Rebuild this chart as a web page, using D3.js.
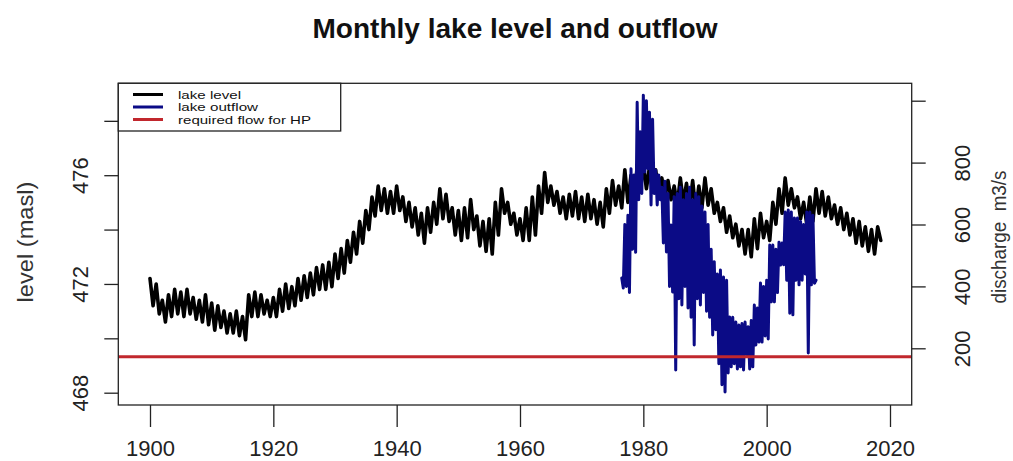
<!DOCTYPE html>
<html>
<head>
<meta charset="utf-8">
<script src="https://cdn.jsdelivr.net/npm/d3@7"></script>
<style>
  body { margin: 0; background: #fff; }
  svg { display: block; font-family: "Liberation Sans", Arial, sans-serif; }
</style>
</head>
<body>
<svg id="chart" width="1013" height="461"></svg>
<script>
// lake level: one high and one low reading per year, 1900-2018 (masl)
const levelYears = d3.range(1900, 2019);
const levelHigh = [
  472.2, 472.0, 471.4, 471.6, 471.8, 471.7, 471.8, 471.5, 471.4, 471.6,
  471.3, 471.2, 471.0, 470.9, 471.0, 470.8, 471.6, 471.7, 471.6, 471.4,
  471.5, 471.8, 472.0, 471.9, 472.2, 472.3, 472.4, 472.6, 472.7, 472.8,
  473.1, 473.3, 473.6, 473.9, 474.3, 474.7, 475.2, 475.6, 475.5, 475.4,
  475.6, 475.2, 475.0, 474.8, 474.6, 474.8, 475.0, 475.5, 475.3, 474.8,
  474.7, 474.8, 475.1, 474.5, 474.3, 474.4, 475.0, 475.5, 475.0, 474.6,
  474.4, 474.8, 475.2, 475.6, 476.1, 475.6, 475.4, 475.2, 475.3, 475.4,
  475.2, 475.3, 475.1, 475.0, 475.5, 475.8, 475.6, 476.2, 476.0, 476.3,
  476.4, 476.3, 476.2, 475.9, 475.8, 475.6, 475.9, 475.7, 475.8, 475.6,
  475.9, 475.5, 475.0, 474.8, 474.5, 474.2, 474.0, 474.0, 474.4, 474.6,
  474.3, 475.0, 475.5, 475.9, 475.5, 475.2, 475.0, 475.2, 475.5, 475.4,
  475.2, 474.9, 474.8, 474.6, 474.4, 474.3, 474.1, 474.0, 474.1
];
const levelLow = [
  471.2, 470.9, 470.6, 470.8, 470.9, 470.8, 470.9, 470.7, 470.6, 470.5,
  470.3, 470.4, 470.2, 470.2, 470.1, 469.95, 470.8, 470.8, 470.9, 470.8,
  470.8, 471.0, 471.1, 471.2, 471.4, 471.5, 471.6, 471.8, 471.8, 471.9,
  472.2, 472.4, 472.8, 473.1, 473.5, 474.0, 474.5, 474.7, 474.6, 474.6,
  474.7, 474.3, 474.1, 473.8, 473.5, 473.9, 474.2, 474.4, 474.3, 473.8,
  473.6, 473.7, 474.0, 473.4, 473.2, 473.1, 473.8, 474.6, 474.2, 473.8,
  473.6, 473.6, 473.8, 474.6, 475.0, 474.9, 474.6, 474.4, 474.5, 474.4,
  474.3, 474.4, 474.2, 474.1, 474.6, 474.9, 474.8, 475.0, 475.1, 475.4,
  475.5, 475.4, 475.3, 475.2, 475.1, 474.9, 475.0, 474.8, 474.7, 474.8,
  474.9, 474.6, 474.3, 473.9, 473.7, 473.4, 473.1, 473.0, 473.3, 473.7,
  473.6, 474.2, 474.6, 474.9, 474.8, 474.4, 474.2, 474.3, 474.6, 474.5,
  474.4, 474.2, 474.0, 473.8, 473.5, 473.4, 473.2, 473.1, 473.6
];

// lake outflow: quarterly readings from mid 1976 to early 2008 (m3/s)
const flowStart = 1976.5;
const flowStep = 0.25;
const flowValues = [
  427, 395,
  600, 400, 630, 380,   // 1977
  780, 520, 760, 510,
  995, 680, 900, 700,
  1018, 770, 1000, 780, // 1980
  963, 663, 940, 700,
  776, 663, 760, 680,
  720, 540, 740, 511,
  700, 400, 598, 382,
  690, 130, 700, 360,   // 1985
  720, 340, 680, 400,
  700, 330, 720, 300,
  680, 211, 700, 360,
  690, 340, 660, 380,
  640, 320, 600, 300,   // 1990
  520, 243, 480, 260,
  440, 150, 453, 82,
  430, 59, 420, 120,
  301, 140, 300, 150,
  285, 133, 275, 140,   // 1995
  280, 130, 285, 180,
  270, 133, 290, 140,
  340, 211, 330, 220,
  411, 220, 400, 240,
  420, 230, 534, 350,   // 2000
  534, 350, 520, 380,
  543, 469, 540, 470,
  640, 420, 647, 313,
  640, 308, 621, 420,
  621, 405, 610, 420,   // 2005
  600, 440, 640, 185,
  640, 405, 630, 410,
  420
];
const requiredFlow = 173;

const yearTicks = [1900, 1920, 1940, 1960, 1980, 2000, 2020];
const levelTicks = [468, 470, 472, 474, 476, 478];
const levelLabels = [468, 472, 476];
const flowTicks = [200, 400, 600, 800, 1000];
const flowLabels = [200, 400, 600, 800];

const legendNames = ["lake level", "lake outflow", "required flow for HP"];
const legendColors = ["#000000", "#0b0b86", "#c1272d"];

const svg = d3.select("#chart");
const box = { left: 118.3, right: 911.7, top: 83.3, bottom: 405 };

const x = d3.scaleLinear().domain([1900, 2020]).range([150, 890]);
const yLevel = d3.scaleLinear().domain([468, 476]).range([392.7, 175.2]);
const yFlow = d3.scaleLinear().domain([200, 1000]).range([348.3, 100.7]);

svg.append("defs").append("clipPath").attr("id", "plotclip")
  .append("rect")
  .attr("x", box.left).attr("y", box.top)
  .attr("width", box.right - box.left).attr("height", box.bottom - box.top);

const plot = svg.append("g").attr("clip-path", "url(#plotclip)");

const levelPoints = levelYears.flatMap((yr, i) => [[yr, levelHigh[i]], [yr + 0.5, levelLow[i]]]);
const flowPoints = flowValues.map((v, i) => [flowStart + i * flowStep, v]);

plot.append("path")
  .attr("d", d3.line().x(d => x(d[0])).y(d => yLevel(d[1]))(levelPoints))
  .attr("fill", "none").attr("stroke", legendColors[0])
  .attr("stroke-width", 3.6).attr("stroke-linejoin", "round").attr("stroke-linecap", "round");

plot.append("path")
  .attr("d", d3.line().x(d => x(d[0])).y(d => yFlow(d[1]))(flowPoints))
  .attr("fill", "none").attr("stroke", legendColors[1])
  .attr("stroke-width", 3).attr("stroke-linejoin", "round").attr("stroke-linecap", "round");

plot.append("line")
  .attr("x1", box.left).attr("x2", box.right)
  .attr("y1", yFlow(requiredFlow)).attr("y2", yFlow(requiredFlow))
  .attr("stroke", legendColors[2]).attr("stroke-width", 3);

// axes
const xAxis = svg.append("g")
  .attr("transform", `translate(0,${box.bottom})`)
  .call(d3.axisBottom(x).tickValues(yearTicks).tickSize(22).tickFormat(d3.format("d")));
xAxis.selectAll("text").attr("y", 51).attr("dy", null);

const leftAxis = svg.append("g")
  .attr("transform", `translate(${box.left},0)`)
  .call(d3.axisLeft(yLevel).tickValues(levelTicks).tickSize(14)
    .tickFormat(d => levelLabels.includes(d) ? d : ""));
leftAxis.selectAll("text")
  .attr("x", null).attr("dy", null).attr("text-anchor", "middle")
  .attr("transform", "translate(-30,0) rotate(-90)");

const rightAxis = svg.append("g")
  .attr("transform", `translate(${box.right},0)`)
  .call(d3.axisRight(yFlow).tickValues(flowTicks).tickSize(14)
    .tickFormat(d => flowLabels.includes(d) ? d : ""));
rightAxis.selectAll("text")
  .attr("x", null).attr("dy", null).attr("text-anchor", "middle")
  .attr("transform", "translate(58,0) rotate(-90)");

svg.selectAll(".domain").remove();
svg.selectAll(".tick line").attr("stroke", "#222").attr("stroke-width", 1.3);
svg.selectAll(".tick text").attr("font-size", 22).attr("fill", "#222")
  .attr("font-family", "Liberation Sans, Arial, sans-serif");

svg.append("rect")
  .attr("x", box.left).attr("y", box.top)
  .attr("width", box.right - box.left).attr("height", box.bottom - box.top)
  .attr("fill", "none").attr("stroke", "#222").attr("stroke-width", 1.3);

// titles
svg.append("text")
  .attr("x", 515).attr("y", 38).attr("text-anchor", "middle")
  .attr("font-size", 27).attr("font-weight", "bold").attr("fill", "#111")
  .attr("textLength", 405).attr("lengthAdjust", "spacingAndGlyphs")
  .text("Monthly lake level and outflow");

svg.append("text")
  .attr("transform", "translate(33,242) rotate(-90)")
  .attr("text-anchor", "middle").attr("font-size", 22).attr("fill", "#333")
  .attr("textLength", 121).attr("lengthAdjust", "spacingAndGlyphs")
  .text("level (masl)");

svg.append("text")
  .attr("transform", "translate(1006,237) rotate(-90)")
  .attr("text-anchor", "middle").attr("font-size", 20).attr("fill", "#333")
  .attr("textLength", 133).attr("lengthAdjust", "spacingAndGlyphs")
  .attr("xml:space", "preserve")
  .text("discharge  m3/s");

// legend
const legend = svg.append("g");
legend.append("rect")
  .attr("x", box.left).attr("y", box.top)
  .attr("width", 340.7 - box.left).attr("height", 131 - box.top)
  .attr("fill", "#fff").attr("stroke", "#222").attr("stroke-width", 1.3);

const legendY = d3.scalePoint().domain(legendNames).range([94.5, 119.5]);
const legendWidths = [63, 80, 133];
legendNames.forEach((name, i) => {
  legend.append("line")
    .attr("x1", 133).attr("x2", 163)
    .attr("y1", legendY(name)).attr("y2", legendY(name))
    .attr("stroke", legendColors[i]).attr("stroke-width", 3);
  legend.append("text")
    .attr("x", 178).attr("y", legendY(name) + 4)
    .attr("font-size", 11.5).attr("fill", "#111")
    .attr("textLength", legendWidths[i]).attr("lengthAdjust", "spacingAndGlyphs")
    .text(name);
});
</script>
</body>
</html>
